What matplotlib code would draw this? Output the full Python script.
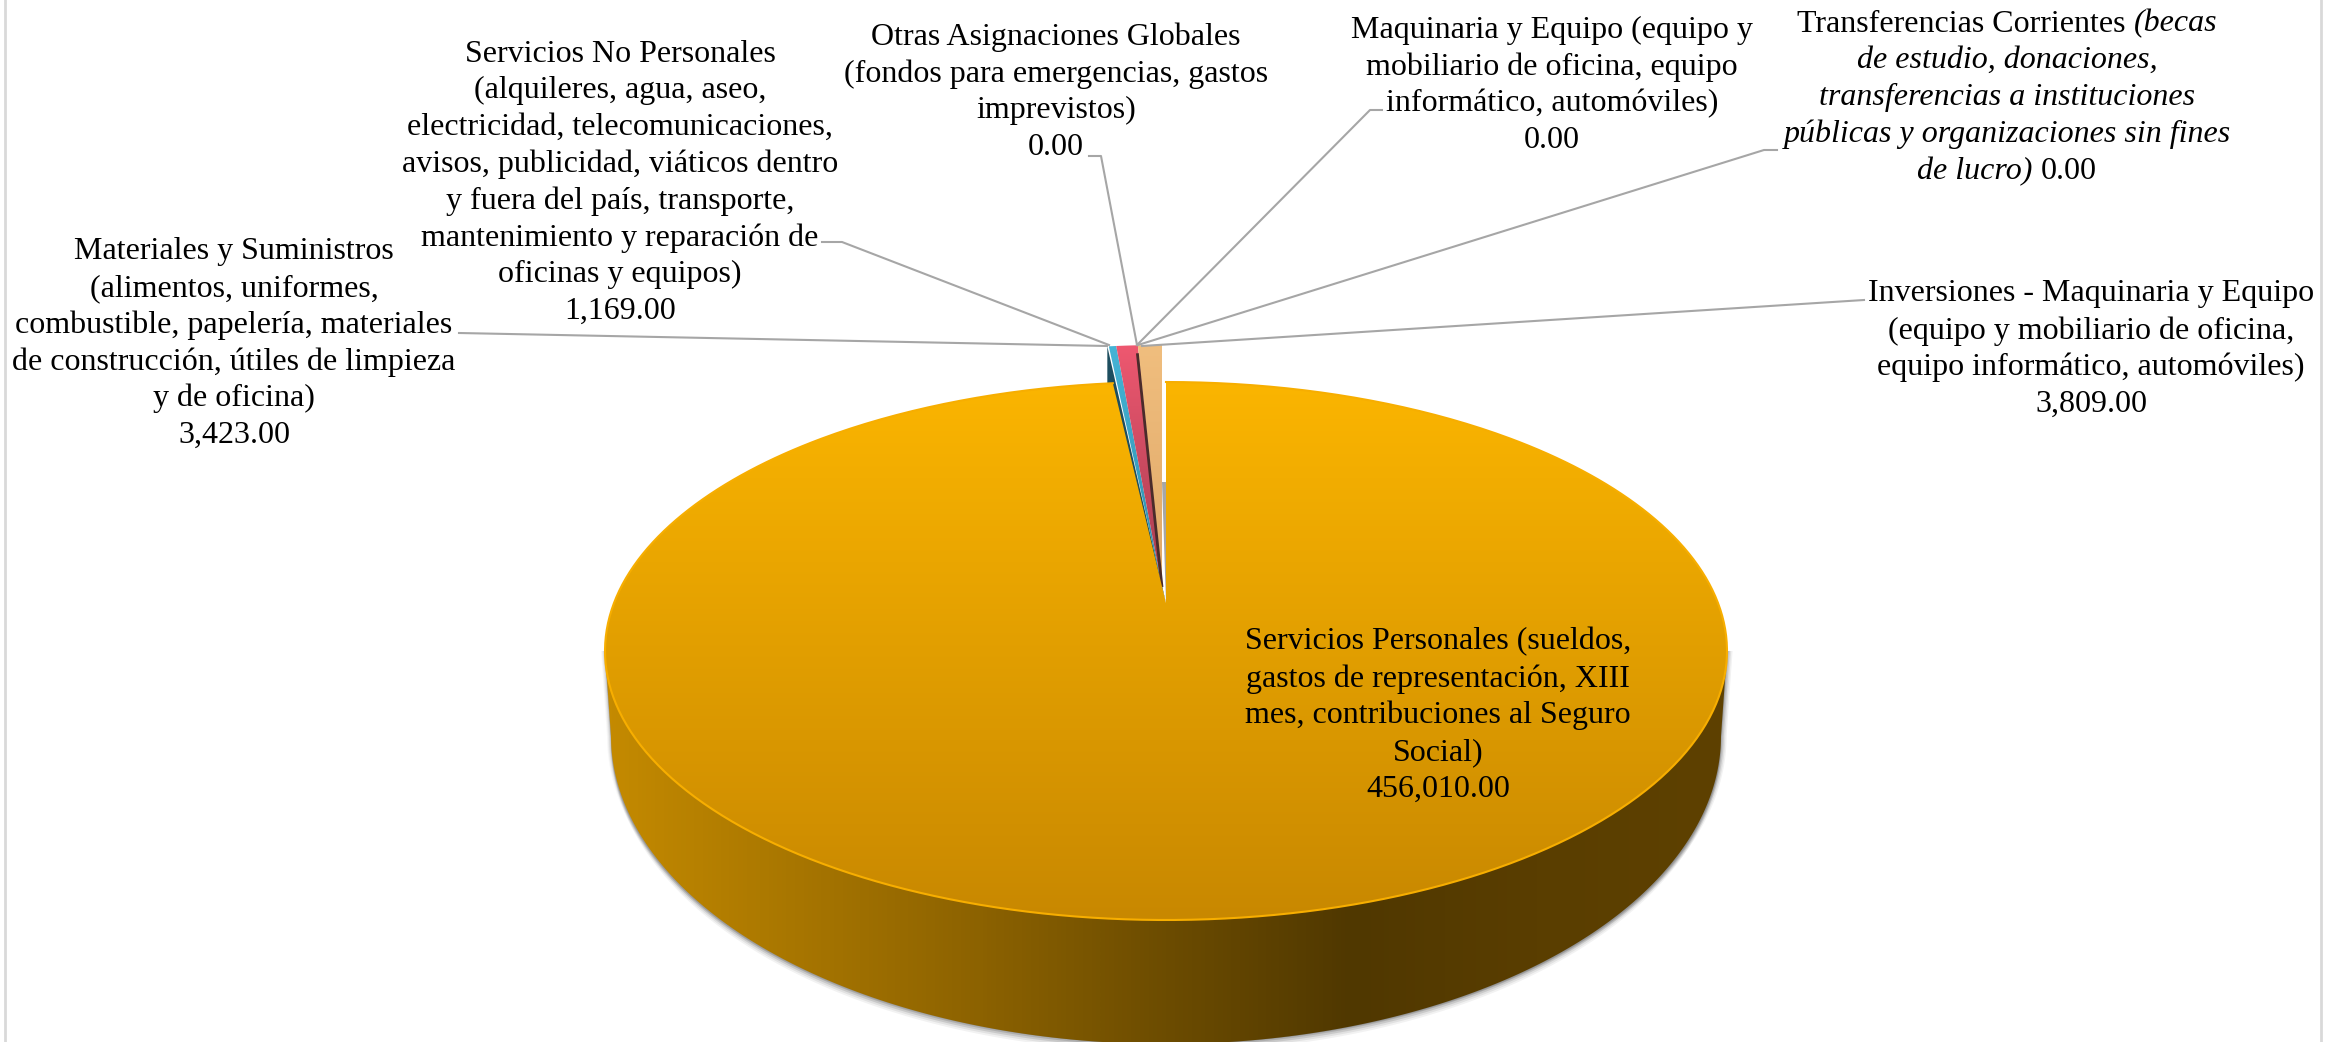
import numpy as np
import matplotlib.pyplot as plt
from matplotlib.colors import LinearSegmentedColormap
from matplotlib.patches import Polygon

plt.rcParams['font.family'] = ['Liberation Serif']

# clockwise from 12 o'clock, same order as the pie
categories = ['Servicios Personales', 'Servicios No Personales', 'Materiales y Suministros',
              'Maquinaria y Equipo', 'Otras Asignaciones Globales', 'Transferencias Corrientes',
              'Inversiones - Maquinaria y Equipo']
values = [456010.00, 1169.00, 3423.00, 0.00, 0.00, 0.00, 3809.00]
top_colors = [('#FBB500', '#C88800'), ('#45B4D6', '#2E8FAD'), ('#EE5870', '#A63C50'),
              ('#A5A5A5', '#A5A5A5'), ('#70AD47', '#70AD47'), ('#5B9BD5', '#5B9BD5'),
              ('#F0BE7E', '#E0A868')]

# each label, line by line
label_materiales = ['Materiales y Suministros', '(alimentos, uniformes,', 'combustible, papelería, materiales',
                    'de construcción, útiles de limpieza', 'y de oficina)', '3,423.00']
label_no_personales = ['Servicios No Personales', '(alquileres, agua, aseo,', 'electricidad, telecomunicaciones,',
                       'avisos, publicidad, viáticos dentro', 'y fuera del país, transporte,',
                       'mantenimiento y reparación de', 'oficinas y equipos)', '1,169.00']
label_otras = ['Otras Asignaciones Globales', '(fondos para emergencias, gastos', 'imprevistos)', '0.00']
label_maquinaria = ['Maquinaria y Equipo (equipo y', 'mobiliario de oficina, equipo', 'informático, automóviles)', '0.00']
label_inversiones = ['Inversiones - Maquinaria y Equipo', '(equipo y mobiliario de oficina,',
                     'equipo informático, automóviles)', '3,809.00']
label_personales = ['Servicios Personales (sueldos,', 'gastos de representación, XIII',
                    'mes, contribuciones al Seguro', 'Social)', '456,010.00']

W, H = 2338, 1042
fig = plt.figure(figsize=(W / 100, H / 100), dpi=100)
ax = fig.add_axes([0, 0, 1, 1])

# pie geometry in pixels
cx, cy, rx, ry = 1166, 651, 561, 269
k = 48 / 269  # perspective: the centre of the pie sits above the centre of the ellipse
bx, by, brx, bry = 1166, 736, 555, 308

layer = 2


def project(th):
    u, v = np.sin(th), np.cos(th)
    d = 1 + k * v
    return u * np.sqrt(1 - k ** 2) / d, (v + k) / d


def grad_fill(pts, colors, vertical=True, extent=None):
    # gradient image clipped to a polygon
    global layer
    pts = np.asarray(pts)
    cmap = LinearSegmentedColormap.from_list('g', colors)
    g = np.linspace(0, 1, 256)
    g = g.reshape(-1, 1) if vertical else g.reshape(1, -1)
    if extent is None:
        extent = [pts[:, 0].min(), pts[:, 0].max(), pts[:, 1].max(), pts[:, 1].min()]
    im = ax.imshow(g, cmap=cmap, extent=extent, aspect='auto', zorder=layer, interpolation='bilinear')
    im.set_clip_path(Polygon(pts, closed=True, transform=ax.transData))
    layer += 1


angles = np.cumsum([0] + values) / sum(values) * 2 * np.pi

# wall of the pie
a = np.linspace(0, np.pi, 300)
wall = np.array([(cx - rx, cy)] + list(zip(bx - brx * np.cos(a), by + bry * np.sin(a))) + [(cx + rx, cy)])

# soft grey shadow round the wall
for off, alpha in [(8, 0.10), (6, 0.15), (4, 0.25), (2, 0.35)]:
    ax.add_patch(Polygon(wall + [0, off], closed=True, fc='#808080', ec='none', alpha=alpha, zorder=1))
    ax.add_patch(Polygon(wall + [off * 0.7, 0], closed=True, fc='#808080', ec='none', alpha=alpha, zorder=1))
    ax.add_patch(Polygon(wall + [-off * 0.5, 0], closed=True, fc='#808080', ec='none', alpha=alpha * 0.6, zorder=1))

grad_fill(wall, ['#C48A00', '#A87600', '#8C6200', '#6C4C00', '#503800', '#5A3E00', '#5E4100'], vertical=False,
          extent=[cx - rx, cx + rx, H + 40, cy - 10])

# small slices sit slightly away from the big one
ax_s, ay_s = 1162, 587
sy = 1.095


def small_pt(th):
    up, vp = project(th)
    return ax_s + rx * up, ay_s - ry * sy * (vp - k)


# teal side of the blue slice, goes under the big slice
lx, ly = small_pt(angles[1])
ax.add_patch(Polygon([(lx - 1.5, ly), (lx - 1.5, ly + 40), (cx, cy - ry * k)], closed=True, fc='#1D4E5F', ec='none',
                     zorder=layer))
layer += 1

# grey edge of the big slice seen through the gap
ax.add_patch(Polygon([(1162, 482), (1166, 482), (1166, 603)], closed=True, fc='#A6A6A6', ec='none',
                     zorder=layer))
layer += 1

for i in range(1, len(values)):
    if values[i] == 0:
        continue
    th = np.linspace(angles[i], angles[i + 1], 10)
    pts = [(ax_s, ay_s)] + [small_pt(t) for t in th]
    grad_fill(pts, top_colors[i])
    if categories[i].startswith('Inversiones'):
        # dark side of the peach slice
        x0, y0 = small_pt(angles[i])
        ax.plot([x0 - 0.5, ax_s], [y0 + 8, ay_s], color='#4A2B2B', lw=2, solid_capstyle='butt', zorder=layer)
        layer += 1

# big slice, top face
th = np.linspace(angles[0], angles[1], 500)
up, vp = project(th)
top = np.column_stack([cx + rx * up, cy - ry * vp])
main_pts = np.vstack([[cx, cy - ry * k], top])
grad_fill(main_pts, top_colors[0])
ax.plot(top[:, 0], top[:, 1], color='#F7AE00', lw=1.5, zorder=layer)
layer += 1

# leader lines
leaders = [
    [(459, 333), (1107, 346)],
    [(822, 242), (842, 242), (1109, 345)],
    [(1089, 156), (1101, 156), (1137, 345)],
    [(1382, 110), (1370, 110), (1137, 345)],
    [(1777, 150), (1764, 150), (1138, 345)],
    [(1864, 300), (1142, 346)],
]
for leader in leaders:
    xs, ys = zip(*leader)
    ax.plot(xs, ys, color='#A6A6A6', lw=1.5, zorder=layer)

# texts
FS = 23.0
pitch = 36.8


def put_lines(lines, xc, y0, **kw):
    for n, line in enumerate(lines):
        ax.text(xc, y0 + n * pitch, line, ha='center', va='center', fontsize=FS, color='black', zorder=100, **kw)


def put_runs(runs, xc, y):
    # one centred line made of roman and italic pieces
    r = fig.canvas.get_renderer()
    pieces = [ax.text(0, y, s, style=st, fontsize=FS, va='center', ha='left', color='black', zorder=100)
              for s, st in runs]
    widths = [p.get_window_extent(r).width for p in pieces]
    space = FS * 0.25 * 100 / 72
    x = xc - (sum(widths) + space * (len(widths) - 1)) / 2
    for p, w in zip(pieces, widths):
        p.set_x(x)
        x += w + space


put_lines(label_materiales, 234, 251.5)
put_lines(label_no_personales, 620, 54)
put_lines(label_otras, 1056, 37)
put_lines(label_maquinaria, 1552, 30)
put_lines(label_inversiones, 2091, 294)
put_lines(label_personales, 1438, 642)

y = 24
put_runs([('Transferencias Corrientes', 'normal'), ('(becas', 'italic')], 2007, y)
put_runs([('de estudio, donaciones,', 'italic')], 2007, y + pitch)
put_runs([('transferencias a instituciones', 'italic')], 2007, y + 2 * pitch)
put_runs([('públicas y organizaciones sin fines', 'italic')], 2007, y + 3 * pitch)
put_runs([('de lucro)', 'italic'), ('0.00', 'normal')], 2007, y + 4 * pitch)

# chart frame, only the side edges are visible in the crop
ax.plot([5, 5], [0, H], color='#D9D9D9', lw=2, zorder=0.5)
ax.plot([2321, 2321], [0, H], color='#D9D9D9', lw=2, zorder=0.5)

ax.set_xlim(0, W)
ax.set_ylim(H, 0)
ax.axis('off')
fig.savefig('out.png', dpi=100, facecolor='white')
